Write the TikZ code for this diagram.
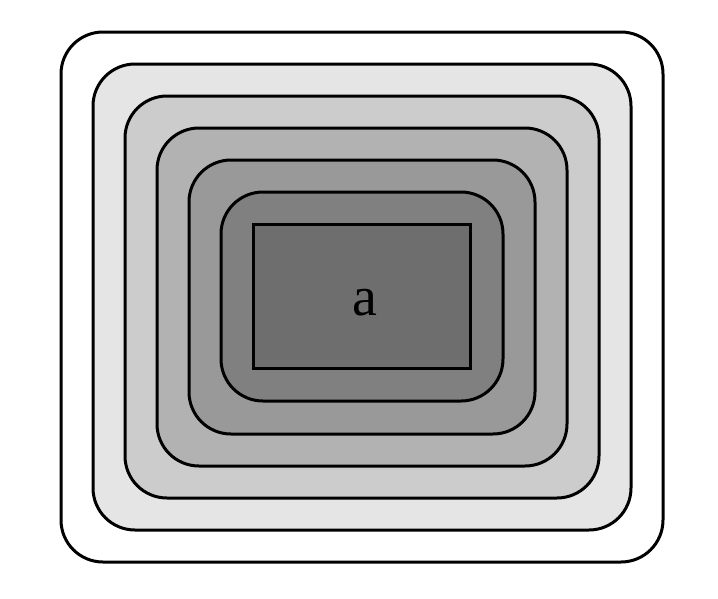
\documentclass[tikz,border=0pt]{standalone}
\usepackage{fontspec}
\setmainfont{Liberation Serif}
\begin{document}
\begin{tikzpicture}[x=1pt,y=-1pt,
  ring/.style={draw=black,line width=3pt,rounded corners=42pt},
  core/.style={draw=black,line width=3pt}]
\useasboundingbox (0,0) rectangle (718,598);
\fill[white] (0,0) rectangle (718,598);
\draw[ring,fill=white]          (61,32)  rectangle (663,562);
\draw[ring,fill=black!10]       (93,64)  rectangle (631,530);
\draw[ring,fill=black!20]       (125,96) rectangle (599,498);
\draw[ring,fill=black!30]       (157,128) rectangle (567,466);
\draw[ring,fill=black!40]       (189,160) rectangle (535,434);
\draw[ring,fill=black!50]       (221,192) rectangle (503,401);
\node[core,fill=black!57,minimum width=217pt,minimum height=144pt,inner sep=0pt,
  font=\fontsize{56}{60}\selectfont] (a) at (361.5,296.5) {\hspace*{7pt}\raisebox{-19pt}[0pt][0pt]{a}};
\end{tikzpicture}
\end{document}
